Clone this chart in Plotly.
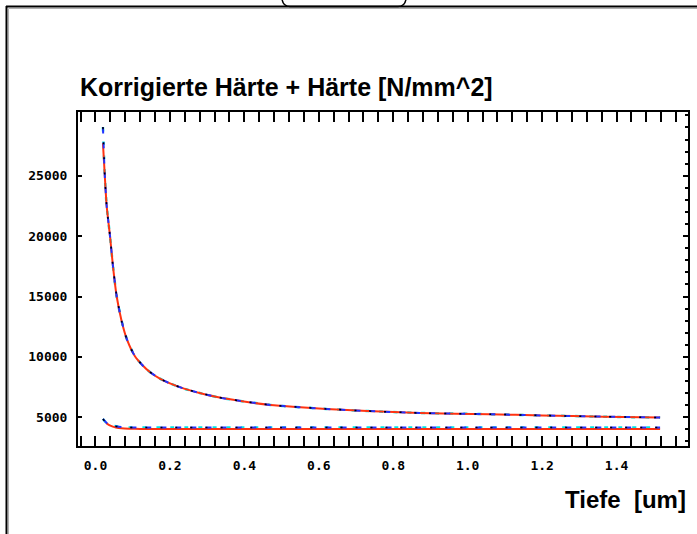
import plotly.graph_objects as go

# ---------------- data ----------------
x_upper = [0.020, 0.025, 0.030, 0.039, 0.047, 0.057, 0.070, 0.085, 0.106, 0.125,
           0.146, 0.173, 0.200, 0.240, 0.280, 0.330, 0.390, 0.470, 0.540, 0.620,
           0.730, 0.870, 1.060, 1.200, 1.364, 1.517]
y_upper_meas = [29030, 25000, 22500, 20000, 17500, 15000, 13000, 11400, 10050, 9350,
                8750, 8200, 7800, 7350, 7010, 6650, 6350, 6020, 5850, 5690,
                5520, 5355, 5250, 5150, 5050, 4970]
y_upper_fit = [27700, 25000, 22500, 20000, 17500, 15000, 13000, 11400, 10050, 9350,
               8750, 8200, 7800, 7350, 7010, 6650, 6350, 6020, 5850, 5690,
               5520, 5355, 5250, 5150, 5050, 4970]

x_lower = [0.020, 0.033, 0.050, 0.070, 0.090, 0.120, 0.200, 0.400, 0.800, 1.200, 1.517]
y_lower_meas = [4860, 4445, 4280, 4190, 4160, 4150, 4150, 4150, 4150, 4150, 4150]
x_lower_fit = [0.028, 0.040, 0.055, 0.070, 0.090, 0.120, 0.200, 0.400, 0.800, 1.200, 1.517]
y_lower_fit = [4540, 4300, 4150, 4080, 4050, 4035, 4030, 4030, 4030, 4030, 4030]

x_ticks = [0.0, 0.2, 0.4, 0.6, 0.8, 1.0, 1.2, 1.4]
y_ticks = [5000, 10000, 15000, 20000, 25000]

title_text = "Korrigierte Härte + Härte [N/mm^2]"
xaxis_text = "Tiefe \u00a0[um]"

# ---------------- layout geometry ----------------
W, H = 697, 534
L, R, T, B = 78, 688, 112, 446
xr = [-0.047, 1.592]
yr = [2620, 30280]

def px(x):
    return (x - L) / (R - L)

def py(y):
    return (B - y) / (B - T)

RED = "#ff3311"
BLUE = "#2233ff"
CYAN = "#00e5e5"
BLACK = "#000000"

fig = go.Figure()

for xs, ys, xf, yf in [(x_upper, y_upper_meas, x_upper, y_upper_fit),
                       (x_lower, y_lower_meas, x_lower_fit, y_lower_fit)]:
    fig.add_trace(go.Scatter(x=xs, y=ys, mode="lines", showlegend=False, hoverinfo="skip",
                             line=dict(color=CYAN, width=2.5, dash="4px,10px", shape="spline", smoothing=0.6)))
    fig.add_trace(go.Scatter(x=xf, y=yf, mode="lines", showlegend=False, hoverinfo="skip",
                             line=dict(color=RED, width=2, shape="spline", smoothing=0.6)))
    fig.add_trace(go.Scatter(x=xs, y=ys, mode="lines", showlegend=False, hoverinfo="skip",
                             line=dict(color=BLUE, width=2, dash="6px,9px", shape="spline", smoothing=0.6)))
    fig.add_trace(go.Scatter(x=xs, y=ys, mode="lines", showlegend=False, hoverinfo="skip",
                             line=dict(color=BLACK, width=1.5, dash="2px,13px", shape="spline", smoothing=0.6)))

# invisible trace on the secondary (right) y axis so it renders
fig.add_trace(go.Scatter(x=x_lower, y=y_lower_fit, yaxis="y2", mode="lines",
                         showlegend=False, hoverinfo="skip", opacity=0,
                         line=dict(width=0)))

tickfont = dict(family="DejaVu Sans Mono", size=13, color="black", weight="bold")

fig.update_layout(
    width=W, height=H,
    margin=dict(l=L, r=W - R, t=T, b=H - B, pad=0),
    paper_bgcolor="white", plot_bgcolor="white",
    xaxis=dict(range=xr, tickvals=x_ticks, tickformat=".1f", showgrid=False, zeroline=False,
               showline=True, linecolor="black", linewidth=2, mirror="allticks",
               ticks="inside", ticklen=10, tickwidth=2, tickcolor="black",
               minor=dict(dtick=0.04, tick0=0, ticks="inside", ticklen=4, tickwidth=2,
                          tickcolor="black", showgrid=False),
               tickfont=tickfont, ticklabelstandoff=6),
    yaxis=dict(range=yr, tickvals=y_ticks, tickformat="d", showgrid=False, zeroline=False,
               showline=True, linecolor="black", linewidth=2,
               ticks="inside", ticklen=4, tickwidth=2, tickcolor="black",
               tickfont=tickfont, ticklabelstandoff=6),
    yaxis2=dict(range=yr, overlaying="y", side="right", tickvals=y_ticks, showgrid=False,
                zeroline=False, showline=True, linecolor="black", linewidth=2,
                showticklabels=False, ticks="inside", ticklen=5, tickwidth=2, tickcolor="black",
                minor=dict(dtick=1000, tick0=0, ticks="inside", ticklen=3, tickwidth=2,
                           tickcolor="black", showgrid=False)),
)

fig.add_annotation(text="<b>" + title_text + "</b>", xref="paper", yref="paper",
                   x=0, y=py(87), xanchor="left", yanchor="middle", showarrow=False,
                   font=dict(family="Liberation Sans", size=25, color="black"))
fig.add_annotation(text="<b>" + xaxis_text + "</b>", xref="paper", yref="paper",
                   x=1, y=py(499), xanchor="right", yanchor="middle", showarrow=False,
                   font=dict(family="Liberation Sans", size=24, color="black"))

# outer frame lines
fig.add_shape(type="line", xref="paper", yref="paper", x0=px(6), x1=px(W + 5), y0=py(6.5), y1=py(6.5),
              line=dict(color="black", width=2))
fig.add_shape(type="line", xref="paper", yref="paper", x0=px(6.5), x1=px(6.5), y0=py(6), y1=py(H + 5),
              line=dict(color="black", width=2))
fig.add_shape(type="line", xref="paper", yref="paper", x0=px(8.5), x1=px(W + 5), y0=py(8.5), y1=py(8.5),
              line=dict(color="#b0b0b0", width=1))
fig.add_shape(type="line", xref="paper", yref="paper", x0=px(8.5), x1=px(8.5), y0=py(8.5), y1=py(H + 5),
              line=dict(color="#b0b0b0", width=1))
# tab at top
tab = "M {a},{b} Q {c},{d} {e},{f} L {g},{f} Q {h},{d} {i},{b}".format(
    a=px(282), b=py(-1), c=px(283), d=py(6.5), e=px(290), f=py(6.5), g=px(398), h=px(405), i=px(406))
fig.add_shape(type="path", xref="paper", yref="paper", path=tab, line=dict(color="black", width=1.5))

fig.write_html("out.html")
